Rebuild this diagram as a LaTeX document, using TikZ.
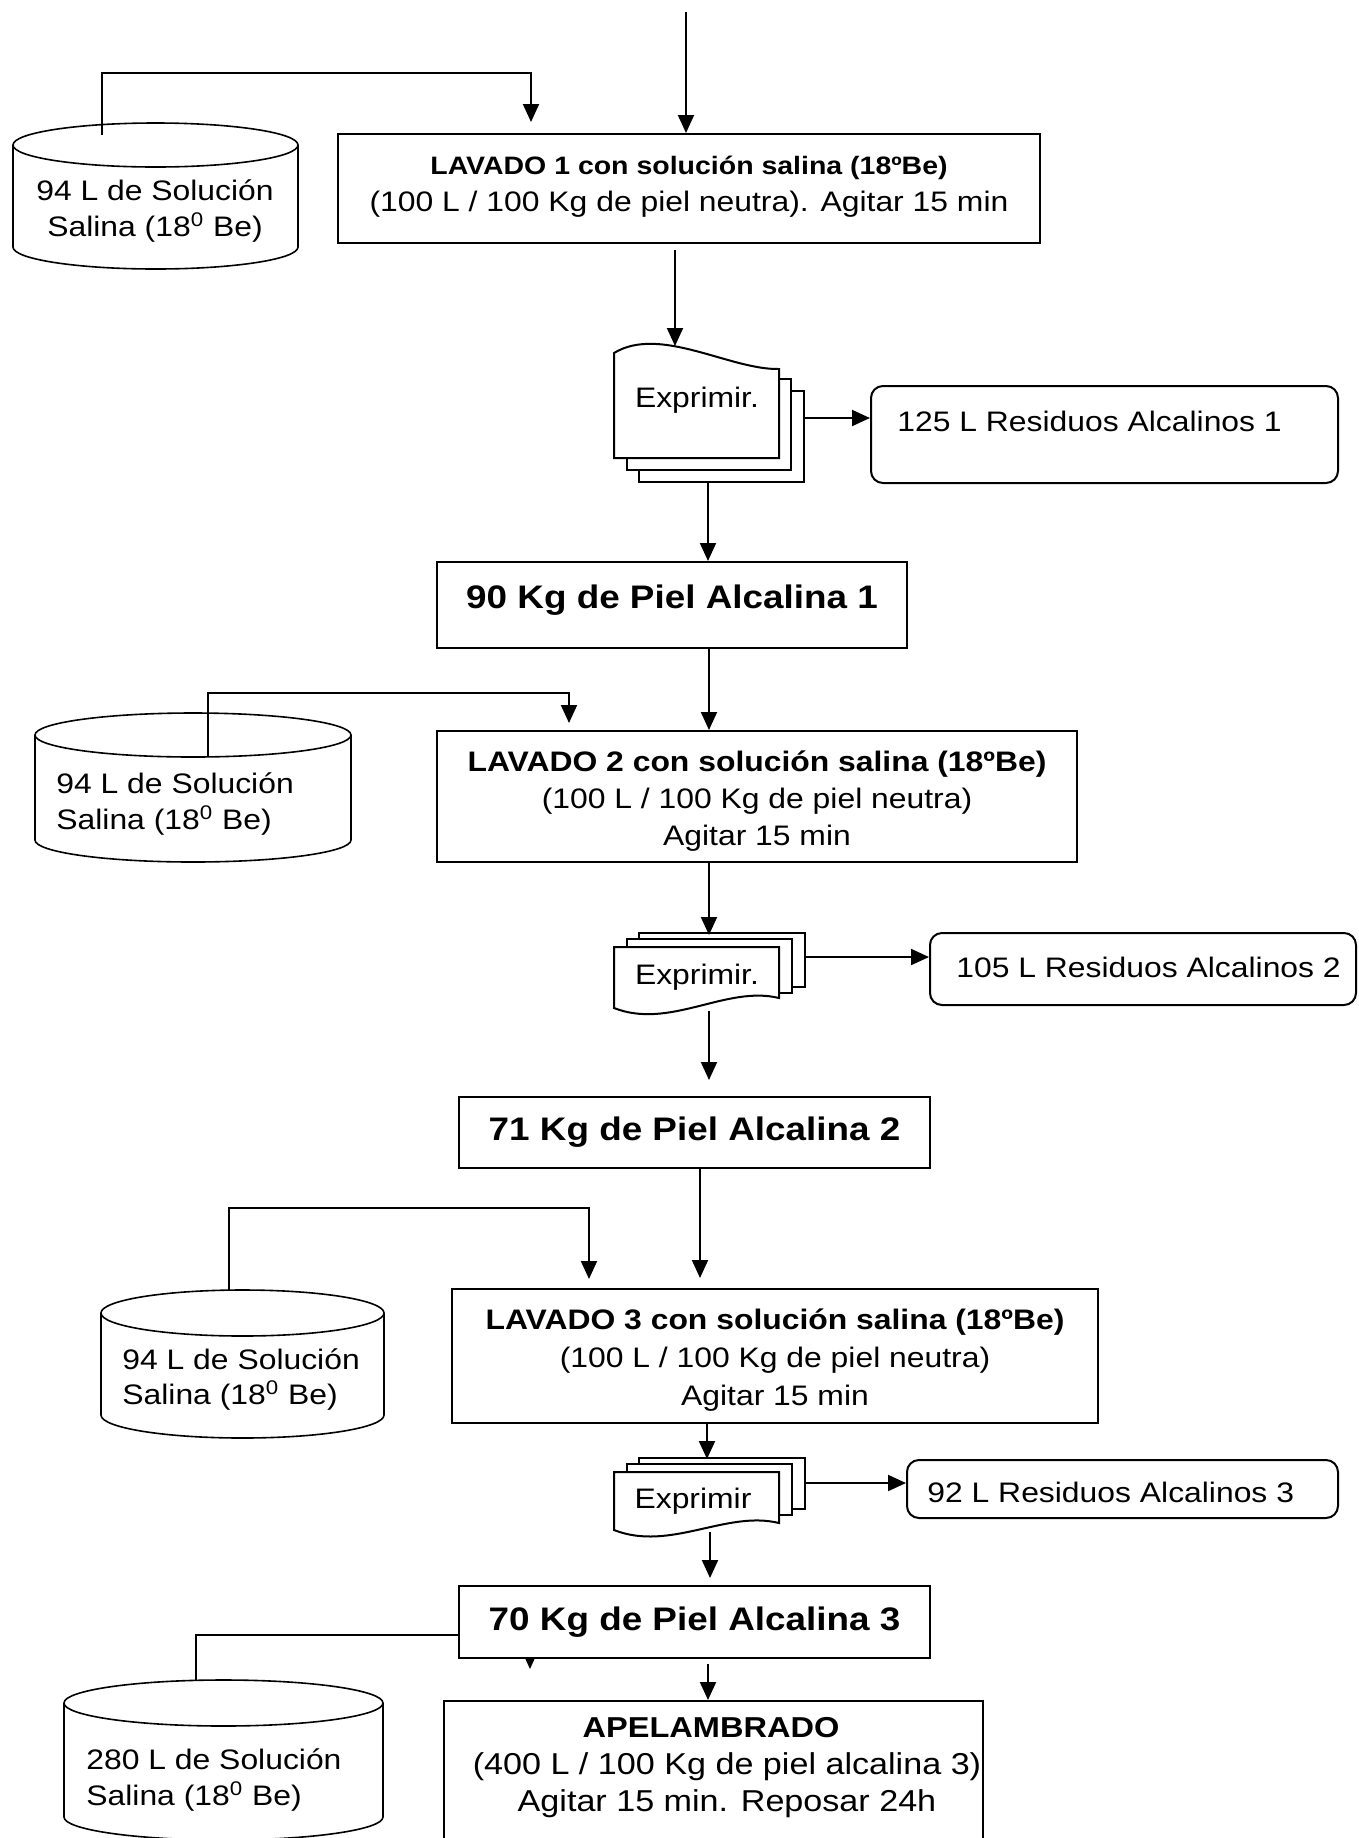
\documentclass[tikz,border=0pt]{standalone}
\usepackage{fontspec}
\setmainfont{Liberation Sans}[FakeStretch=1.13]
\usetikzlibrary{arrows.meta,calc}

\newcommand{\txtsize}[2]{\fontsize{#1}{#2}\selectfont}

\tikzset{
  shapeline/.style={line width=1pt, draw=black},
  tankline/.style={line width=0.8pt, draw=black},
  procbox/.style={shapeline, fill=white, rectangle, inner sep=0pt, align=center},
  wastebox/.style={shapeline, fill=white, rectangle, rounded corners=6pt, inner sep=0pt},
  label/.style={inner sep=0pt, align=center},
  flow/.style={line width=1pt, -{Triangle[length=9pt,width=8pt]}},
}

% storage tank: left x, right x, centre y of top ellipse, centre y of bottom ellipse, ellipse height (px)
\newcommand{\tank}[5]{%
  \pgfmathsetmacro{\tankrx}{(#2-#1)/4}%
  \pgfmathsetmacro{\tankry}{#5/4}%
  \draw[tankline, fill=white] (#1,#3) -- (#1,#4)
     arc[start angle=180, end angle=360, x radius=\tankrx pt, y radius=\tankry pt] -- (#2,#3);
  \draw[tankline, fill=white] ({(#1+#2)/2},#3) ellipse[x radius=\tankrx pt, y radius=\tankry pt];
}

% stack of three sheets, wavy lower edge: top of front sheet, left and right end of the wave
\newcommand{\docstack}[3]{%
  \draw[shapeline, fill=white] (639,{#1-14}) rectangle (805,{#2-21});
  \draw[shapeline, fill=white] (627,{#1-8}) rectangle (792,{#2-15});
  \draw[shapeline, fill=white] (614,#1) -- (779,#1) -- (779,#3)
     .. controls (726,{#3-13}) and (670,{#2+22}) .. (614,#2) -- cycle;
}

\begin{document}
\begin{tikzpicture}[x=0.5pt, y=-0.5pt, font={\txtsize{14.1pt}{18pt}}]
\useasboundingbox (0,0) rectangle (1359,1838);
\clip (0,0) rectangle (1359,1838);

% ---------- washing 1 ----------
\coordinate (feed) at (686,12);
\node[procbox, minimum width=351pt, minimum height=54.5pt] (lav1) at (689,188.5) {};
\node[label, font={\txtsize{14.1pt}{18.75pt}}] (lav1t) at (689,186.5)
  {{\txtsize{12.6pt}{18.75pt}\bfseries LAVADO 1 con solución salina (18ºBe)}\\
   (100 L / 100 Kg de piel neutra). Agitar 15 min};
\draw[flow] (feed) -- (feed |- lav1.north);

\tank{13}{298}{145}{247}{44}
\begin{scope}
  \clip (13,150) rectangle (298,241.5);
  \node[label] (tank1) at (155,211.5) {94 L de Solución\\Salina (18\textsuperscript{0} Be)};
\end{scope}
\coordinate (s1) at (102,135);
\coordinate (t1) at (531,122);
\draw[flow] (s1) |- (531,73) -- (t1);

% squeeze 1 (sheets fanned downwards, wave on top)
\draw[shapeline, fill=white] (639,391) rectangle (804,482);
\draw[shapeline, fill=white] (627,379) rectangle (791,470);
\draw[shapeline, fill=white] (614,458) -- (779,458) -- (779,369)
   .. controls (730,370) and (660,325) .. (614,353) -- cycle;
\node[label] (ex1) at (697,400) {Exprimir.};
\coordinate (d1t) at (675,346);
\coordinate (d1r) at (804,418);
\coordinate (d1b) at (708,482);
\draw[flow, shorten <=3pt] (lav1.south -| d1t) -- (d1t);

\node[wastebox, minimum width=233.5pt, minimum height=48.5pt] (res1) at (1104.5,434.5) {};
\node[label, anchor=west] (res1t) at (897,421) {125 L Residuos Alcalinos 1};
\draw[flow] (d1r) -- (d1r -| res1.west);

\node[procbox, minimum width=235pt, minimum height=43pt] (pa1) at (672,605) {};
\node[label, font={\txtsize{16.3pt}{18pt}\bfseries}] (pa1t) at (672,600) {90 Kg de Piel Alcalina 1};
\draw[flow] (d1b) -- (d1b |- pa1.north);

% ---------- washing 2 ----------
\node[procbox, minimum width=320pt, minimum height=65.5pt] (lav2) at (757,796.5) {};
\node[label, font={\txtsize{14.1pt}{18.5pt}}] (lav2t) at (757,801)
  {{\bfseries LAVADO 2 con solución salina (18ºBe)}\\
   (100 L / 100 Kg de piel neutra)\\ Agitar 15 min};
\coordinate (x2) at (709,0);
\draw[flow] (pa1.south -| x2) -- (x2 |- lav2.north);

\tank{35}{351}{735}{840}{44}
\begin{scope}
  \clip (35,740) rectangle (351,834.5);
  \node[label, align=left, anchor=west] (tank2) at (56,804.5)
    {94 L de Solución\\Salina (18\textsuperscript{0} Be)};
\end{scope}
\coordinate (s2) at (208,757);
\coordinate (t2) at (569,723);
\draw[flow] (s2) |- (569,693) -- (t2);

\docstack{947}{1008}{998}
\node[label] (ex2) at (697,977) {Exprimir.};
\coordinate (d2t) at (709,935);
\coordinate (d2r) at (805,957);
\coordinate (d2b) at (709,1011);
\draw[flow] (lav2.south -| d2t) -- (d2t);

\node[wastebox, minimum width=213pt, minimum height=36pt] (res2) at (1143,969) {};
\node[label, anchor=west] (res2t) at (956,967) {105 L Residuos Alcalinos 2};
\draw[flow] (d2r) -- (d2r -| res2.west);

\node[procbox, minimum width=235.5pt, minimum height=35.5pt, font={\txtsize{16.3pt}{18pt}\bfseries}] (pa2) at (694.5,1132.5)
  {71 Kg de Piel Alcalina 2};
\draw[flow, shorten >=8pt] (d2b) -- (d2b |- pa2.north);

% ---------- washing 3 ----------
\node[procbox, minimum width=323pt, minimum height=67pt] (lav3) at (775,1356) {};
\node[label, font={\txtsize{14.1pt}{19pt}}] (lav3t) at (775,1360)
  {{\bfseries LAVADO 3 con solución salina (18ºBe)}\\
   (100 L / 100 Kg de piel neutra)\\ Agitar 15 min};
\coordinate (x3) at (700,0);
\draw[flow, shorten >=5pt] (pa2.south -| x3) -- (x3 |- lav3.north);

\tank{101}{384}{1313}{1415}{46}
\begin{scope}
  \clip (101,1320) rectangle (384,1410);
  \node[label, align=left, anchor=west, font={\txtsize{14.1pt}{17.5pt}}] (tank3) at (122,1380)
    {94 L de Solución\\Salina (18\textsuperscript{0} Be)};
\end{scope}
\coordinate (s3) at (229,1290);
\coordinate (t3) at (589,1279);
\draw[flow] (s3) |- (589,1208) -- (t3);

\docstack{1472}{1530}{1523}
\node[label] (ex3) at (693,1501) {Exprimir};
\coordinate (d3t) at (707,1459);
\coordinate (d3r) at (805,1483);
\coordinate (d3b) at (710,1532);
\draw[flow] (lav3.south -| d3t) -- (d3t);

\node[wastebox, minimum width=215.5pt, minimum height=29pt] (res3) at (1122.5,1489) {};
\node[label, anchor=west] (res3t) at (927,1492) {92 L Residuos Alcalinos 3};
\draw[flow] (d3r) -- (d3r -| res3.west);

% ---------- liming ----------
\node[procbox, minimum width=269.5pt, minimum height=100pt, anchor=north] (apel) at (713.5,1700) {};
\node[label, font={\txtsize{15.1pt}{18.5pt}}] (apelt) at (727,1767.5)
  {{\txtsize{14.4pt}{18.5pt}\bfseries APELAMBRADO\hspace*{16pt}}\\
   (400 L / 100 Kg de piel alcalina 3)\\Agitar 15 min. Reposar 24h};

\tank{64}{383}{1703}{1817}{46}
\begin{scope}
  \clip (64,1710) rectangle (383,1810.5);
  \node[label, align=left, anchor=west] (tank4) at (86,1780.5)
    {280 L de Solución\\Salina (18\textsuperscript{0} Be)};
\end{scope}
\coordinate (s4) at (196,1680);
\coordinate (t4) at (530,1669);
\draw[flow] (s4) |- (530,1635) -- (t4);

\node[procbox, minimum width=235.5pt, minimum height=36pt, font={\txtsize{16.3pt}{18pt}\bfseries}] (pa3) at (694.5,1622)
  {70 Kg de Piel Alcalina 3};
\draw[flow, shorten >=3.5pt] (d3b) -- (d3b |- pa3.north);
\coordinate (x4) at (708,0);
\draw[flow, shorten <=2.5pt] (pa3.south -| x4) -- (x4 |- apel.north);
\end{tikzpicture}
\end{document}
